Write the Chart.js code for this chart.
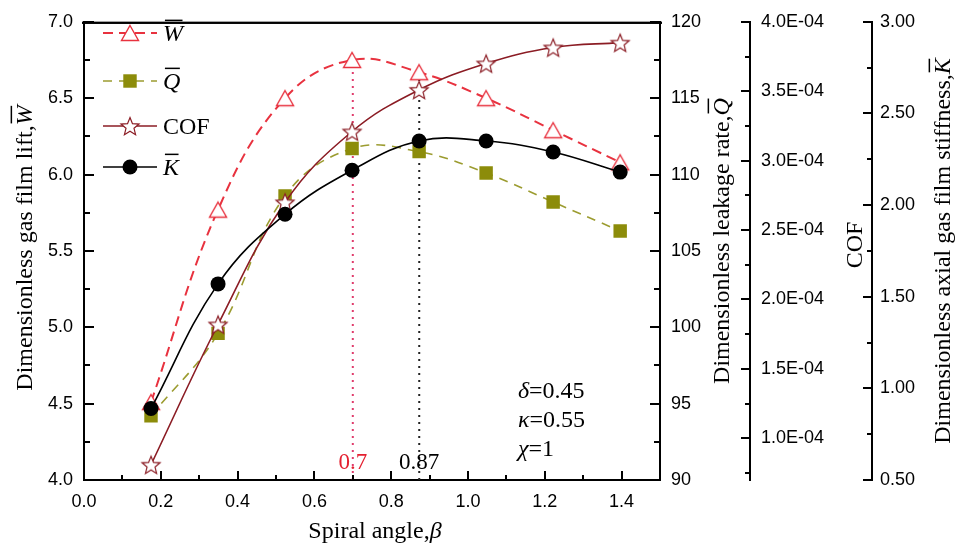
<!DOCTYPE html>
<html>
<head>
<meta charset="utf-8">
<script src="https://cdn.jsdelivr.net/npm/chart.js@4.4.0/dist/chart.umd.min.js"></script>
<style>
  html, body { margin: 0; padding: 0; background: #fff; }
</style>
</head>
<body>
<canvas id="myChart" width="955" height="549"></canvas>
<script>
// spiral angle (rad), 10..80 deg
var beta = [0.1745, 0.3491, 0.5236, 0.6981, 0.8727, 1.0472, 1.2217, 1.3963];
var liftW = [4.51, 5.77, 6.50, 6.75, 6.67, 6.50, 6.29, 6.08];
var leakQ = [94.2, 99.6, 108.6, 111.7, 111.5, 110.1, 108.2, 106.3];
var cof = [0.81e-4, 1.82e-4, 2.70e-4, 3.21e-4, 3.51e-4, 3.70e-4, 3.815e-4, 3.85e-4];
var stiffK = [0.89, 1.57, 1.95, 2.19, 2.35, 2.35, 2.29, 2.18];

var xTicks = [0, 0.2, 0.4, 0.6, 0.8, 1.0, 1.2, 1.4];
var wTicks = [4.0, 4.5, 5.0, 5.5, 6.0, 6.5, 7.0];
var qTicks = [90, 95, 100, 105, 110, 115, 120];
var cofTicks = [1.0e-4, 1.5e-4, 2.0e-4, 2.5e-4, 3.0e-4, 3.5e-4, 4.0e-4];
var kTicks = [0.5, 1.0, 1.5, 2.0, 2.5, 3.0];

// optimum angles marked with dotted lines
var optBeta = [0.7, 0.873];
var optLabels = ['0.7', '0.87'];
var optTop = [6.73, 6.66];

var notes = [['δ', '=0.45'], ['κ', '=0.55'], ['χ', '=1']];

var cW = '#e8323f';
var cQ = '#8c8c0a';
var cQline = '#9c9c30';
var cCOF = '#8b1c24';
var cOpt = ['#e03c6c', '#222222'];

var SERIF = '"Liberation Serif", "Times New Roman", serif';
var SANS = '"Liberation Sans", Arial, sans-serif';

function pts(xs, ys) {
    return xs.map(function (x, i) { return { x: x, y: ys[i] }; });
}

function makeTriangle(color) {
    var c = document.createElement('canvas');
    c.width = 22; c.height = 22;
    var g = c.getContext('2d');
    g.beginPath();
    g.moveTo(11, 3.5); g.lineTo(19.5, 18.5); g.lineTo(2.5, 18.5);
    g.closePath();
    g.fillStyle = '#fff'; g.fill();
    g.lineWidth = 1.4; g.strokeStyle = color; g.stroke();
    return c;
}

function makeStar(color) {
    var c = document.createElement('canvas');
    c.width = 24; c.height = 24;
    var g = c.getContext('2d');
    g.beginPath();
    for (var i = 0; i < 10; i++) {
        var ang = -Math.PI / 2 + i * Math.PI / 5;
        var r = (i % 2) ? 4.2 : 9.5;
        var px = 12 + r * Math.cos(ang), py = 13 + r * Math.sin(ang);
        if (i == 0) g.moveTo(px, py); else g.lineTo(px, py);
    }
    g.closePath();
    g.fillStyle = '#fff'; g.fill();
    g.lineWidth = 1.2; g.strokeStyle = color; g.stroke();
    return c;
}

var triW = makeTriangle(cW);
var starC = makeStar(cCOF);

// text made of parts, some italic and/or with an overline
function partsWidth(g, parts, size) {
    var w = 0;
    parts.forEach(function (p) {
        g.font = (p.it ? 'italic ' : '') + size + 'px ' + SERIF;
        w += g.measureText(p.t).width;
    });
    return w;
}

function drawParts(g, parts, x, y, size, align, color) {
    var cx = align == 'center' ? x - partsWidth(g, parts, size) / 2 : x;
    g.fillStyle = color || '#000';
    g.strokeStyle = color || '#000';
    g.textAlign = 'left';
    g.textBaseline = 'alphabetic';
    parts.forEach(function (p) {
        g.font = (p.it ? 'italic ' : '') + size + 'px ' + SERIF;
        var w = g.measureText(p.t).width;
        g.fillText(p.t, cx, y);
        if (p.bar) {
            g.lineWidth = 1.5;
            g.setLineDash([]);
            g.beginPath();
            g.moveTo(cx + size * 0.08, y - size * 0.86);
            g.lineTo(cx + w - size * 0.02, y - size * 0.86);
            g.stroke();
        }
        cx += w;
    });
}

function drawVertical(g, parts, bx, cy, size) {
    g.save();
    g.translate(bx, cy);
    g.rotate(-Math.PI / 2);
    drawParts(g, parts, 0, 0, size, 'center');
    g.restore();
}

function minorTicks(t, min, max) {
    var out = [];
    var h = (t[1] - t[0]) / 2;
    if (t[0] - h > min + 1e-12) out.push(t[0] - h);
    for (var i = 0; i < t.length - 1; i++) out.push((t[i] + t[i + 1]) / 2);
    if (t[t.length - 1] + h < max - 1e-12) out.push(t[t.length - 1] + h);
    return out;
}

// tick marks as small filled bars
function vTicks(g, scale, x0, dir, majors) {
    majors.forEach(function (v) {
        var py = Math.round(scale.getPixelForValue(v));
        g.fillRect(dir > 0 ? x0 : x0 - 10, py - 1, 10, 2);
    });
    minorTicks(majors, scale.min, scale.max).forEach(function (v) {
        var py = Math.round(scale.getPixelForValue(v));
        g.fillRect(dir > 0 ? x0 : x0 - 6, py - 1, 6, 2);
    });
}

function hTicks(g, scale, y0, majors) {
    majors.forEach(function (v) {
        var px = Math.round(scale.getPixelForValue(v));
        g.fillRect(px - 1, y0 - 9, 2, 9);
    });
    minorTicks(majors, scale.min, scale.max).forEach(function (v) {
        var px = Math.round(scale.getPixelForValue(v));
        g.fillRect(px - 1, y0 - 5, 2, 5);
    });
}

function drawAllTicks(chart) {
    var g = chart.ctx, a = chart.chartArea, s = chart.scales;
    g.save();
    g.fillStyle = '#000';
    g.fillRect(a.left - 2, a.top, a.right - a.left + 4, 2);
    hTicks(g, s.x, Math.round(a.bottom), xTicks);
    vTicks(g, s.yW, Math.round(a.left), 1, wTicks);
    vTicks(g, s.yQ, Math.round(a.right), -1, qTicks);
    vTicks(g, s.yCOF, Math.round(s.yCOF.left) + 1, -1, cofTicks);
    vTicks(g, s.yK, Math.round(s.yK.left) + 1, -1, kTicks);
    g.restore();
}

var tickMarks = {
    id: 'tickMarks',
    afterDatasetsDraw: function (chart) { drawAllTicks(chart); }
};

var decor = {
    id: 'decor',
    afterDraw: function (chart) {
        var g = chart.ctx, a = chart.chartArea, s = chart.scales;
        drawAllTicks(chart);
        g.save();
        g.setLineDash([]);

        // axis titles
        drawVertical(g, [{ t: 'Dimensionless gas film lift,' }, { t: 'W', it: 1, bar: 1 }], 32, 248, 24);
        drawVertical(g, [{ t: 'Dimensionless leakage rate,' }, { t: 'Q', it: 1, bar: 1 }], 729, 241, 24);
        drawVertical(g, [{ t: 'COF' }], 862, 245, 24);
        drawVertical(g, [{ t: 'Dimensionless axial gas film stiffness,' }, { t: 'K', it: 1, bar: 1 }], 950, 251, 24);
        drawParts(g, [{ t: 'Spiral angle,' }, { t: 'β', it: 1 }], (a.left + a.right) / 2 + 3, 538, 24, 'center');

        // optimum labels
        for (var i = 0; i < optBeta.length; i++) {
            drawParts(g, [{ t: optLabels[i] }], s.x.getPixelForValue(optBeta[i]), s.yW.getPixelForValue(4.07), 23, 'center', i == 0 ? '#e42030' : '#000');
        }

        // parameter notes
        var nx = s.x.getPixelForValue(1.13);
        var ny = [4.54, 4.35, 4.155];
        notes.forEach(function (n, k) {
            drawParts(g, [{ t: n[0], it: 1 }, { t: n[1] }], nx, s.yW.getPixelForValue(ny[k]), 24, 'left');
        });

        // legend
        var rows = [33, 81, 126, 167];
        var labels = [[{ t: 'W', it: 1, bar: 1 }], [{ t: 'Q', it: 1, bar: 1 }], [{ t: 'COF' }], [{ t: 'K', it: 1, bar: 1 }]];
        var lx0 = a.left + 19, lx1 = a.left + 73, mx = a.left + 46;
        for (var j = 0; j < 4; j++) {
            var ds = chart.data.datasets[j];
            var y = rows[j];
            g.strokeStyle = ds.borderColor;
            g.lineWidth = ds.borderWidth;
            g.setLineDash(ds.borderDash || []);
            g.beginPath();
            g.moveTo(lx0, y); g.lineTo(lx1, y);
            g.stroke();
            g.setLineDash([]);
            var st = ds.pointStyle;
            if (st == 'rect') {
                var h = ds.pointRadius * Math.SQRT1_2;
                g.fillStyle = ds.pointBackgroundColor;
                g.fillRect(mx - h, y - h, 2 * h, 2 * h);
            } else if (st == 'circle') {
                g.fillStyle = ds.pointBackgroundColor;
                g.beginPath();
                g.arc(mx, y, ds.pointRadius, 0, Math.PI * 2);
                g.fill();
            } else {
                g.drawImage(st, mx - st.width / 2, y - st.height / 2);
            }
            drawParts(g, labels[j], a.left + 79, y + 8, 24, 'left');
        }
        g.restore();
    }
};

function yAxis(pos, min, max, ticks, fmt, width, pad) {
    return {
        type: 'linear', position: pos, min: min, max: max,
        afterBuildTicks: function (sc) { sc.ticks = ticks.map(function (v) { return { value: v }; }); },
        afterFit: function (sc) { sc.width = width; },
        grid: { display: false, drawTicks: false },
        border: { display: true, color: '#000', width: 2 },
        ticks: { color: '#000', padding: pad, font: { family: SANS, size: 18 }, callback: fmt }
    };
}

var myChart = new Chart(document.getElementById('myChart').getContext('2d'), {
    type: 'line',
    data: {
        datasets: [
            { label: 'W', data: pts(beta, liftW), yAxisID: 'yW', borderColor: cW, borderWidth: 2, borderDash: [10, 6],
              pointStyle: triW, pointRadius: 9, order: 3 },
            { label: 'Q', data: pts(beta, leakQ), yAxisID: 'yQ', borderColor: cQline, borderWidth: 1.6, borderDash: [9, 7],
              pointStyle: 'rect', pointRadius: 9.5, pointBackgroundColor: cQ, pointBorderColor: cQ, pointBorderWidth: 0, order: 2 },
            { label: 'COF', data: pts(beta, cof), yAxisID: 'yCOF', borderColor: cCOF, borderWidth: 1.6,
              pointStyle: starC, pointRadius: 10, order: 1 },
            { label: 'K', data: pts(beta, stiffK), yAxisID: 'yK', borderColor: '#000', borderWidth: 1.6,
              pointStyle: 'circle', pointRadius: 7.5, pointBackgroundColor: '#000', pointBorderColor: '#000', pointBorderWidth: 0, order: 0 },
            { label: 'opt1', data: [{ x: optBeta[0], y: 4.0 }, { x: optBeta[0], y: optTop[0] }], yAxisID: 'yW',
              borderColor: cOpt[0], borderWidth: 2, borderDash: [2, 5], pointRadius: 0, tension: 0, order: 5 },
            { label: 'opt2', data: [{ x: optBeta[1], y: 4.0 }, { x: optBeta[1], y: optTop[1] }], yAxisID: 'yW',
              borderColor: cOpt[1], borderWidth: 2, borderDash: [2, 5], pointRadius: 0, tension: 0, order: 5 }
        ]
    },
    options: {
        responsive: false,
        animation: false,
        devicePixelRatio: 1,
        layout: { padding: { top: 16, left: 0, right: 0, bottom: 0 } },
        elements: { line: { tension: 0.4, fill: false } },
        plugins: { legend: { display: false }, tooltip: { enabled: false } },
        scales: {
            x: {
                type: 'linear', position: 'bottom', min: 0, max: 1.5,
                afterBuildTicks: function (sc) { sc.ticks = xTicks.map(function (v) { return { value: v }; }); },
                afterFit: function (sc) { sc.height = 69; },
                grid: { display: false, drawTicks: false },
                border: { display: true, color: '#000', width: 2 },
                ticks: { color: '#000', padding: 11, maxRotation: 0, font: { family: SANS, size: 18 },
                         callback: function (v) { return v.toFixed(1); } }
            },
            yW: yAxis('left', 4.0, 7.0, wTicks, function (v) { return v.toFixed(1); }, 84, 11),
            yQ: yAxis('right', 90, 120, qTicks, function (v) { return String(v); }, 90, 11),
            yCOF: yAxis('right', 0.7e-4, 4.0e-4, cofTicks, function (v) { return (v * 1e4).toFixed(1) + 'E-04'; }, 122, 11),
            yK: yAxis('right', 0.5, 3.0, kTicks, function (v) { return v.toFixed(2); }, 83, 8)
        }
    },
    plugins: [tickMarks, decor]
});
</script>
</body>
</html>
